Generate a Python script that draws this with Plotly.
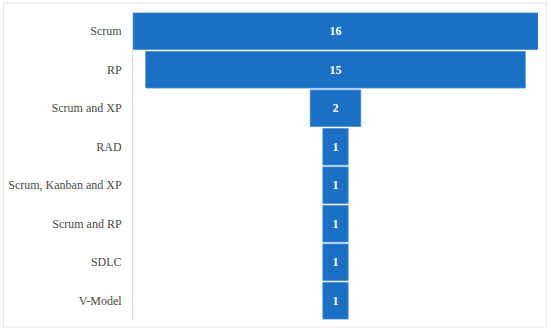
import plotly.graph_objects as go

categories = ["Scrum", "RP", "Scrum and XP", "RAD", "Scrum, Kanban and XP",
              "Scrum and RP", "SDLC", "V-Model"]
values = [16, 15, 2, 1, 1, 1, 1, 1]

W, H = 550, 332
ML, MR, MT, MB = 133, 12, 12, 12
pw, ph = W - ML - MR, H - MT - MB

fig = go.Figure(go.Funnel(
    y=categories,
    x=values,
    orientation="h",
    textinfo="value",
    textposition="inside",
    insidetextanchor="middle",
    textfont=dict(family="Liberation Serif, DejaVu Serif, serif", size=12, color="white"),
    texttemplate="<b>%{value}</b>",
    marker=dict(color="#1b70c5", line=dict(color="#4a8fd6", width=0.8)),
    connector=dict(visible=False),
    hoverinfo="skip",
))

def px_x(x):
    return (x - ML) / pw

def px_y(y):
    return (H - MB - y) / ph

fig.add_shape(type="rect", xref="paper", yref="paper",
              x0=px_x(3.5), x1=px_x(546), y0=px_y(327), y1=px_y(3),
              line=dict(color="#e6e6e6", width=1), fillcolor="rgba(0,0,0,0)", layer="below")

fig.update_layout(
    width=W, height=H,
    margin=dict(l=ML, r=MR, t=MT, b=MB),
    paper_bgcolor="white", plot_bgcolor="white",
    showlegend=False,
    funnelgap=0.05,
    font=dict(family="Liberation Serif, DejaVu Serif, serif", size=12, color="#4a4a4a"),
    xaxis=dict(visible=False, range=[-8, 8], fixedrange=True, automargin=False),
    yaxis=dict(categoryorder="array", categoryarray=categories, autorange="reversed",
               showline=True, linecolor="#d9d9d9", linewidth=1, fixedrange=True,
               automargin=False,
               showgrid=False, ticks="", ticklabelstandoff=8,
               tickfont=dict(size=12, color="#4a4a4a")),
)

fig.write_html("out.html", config={"displayModeBar": False},
               post_script="document.body.style.margin='0';")
